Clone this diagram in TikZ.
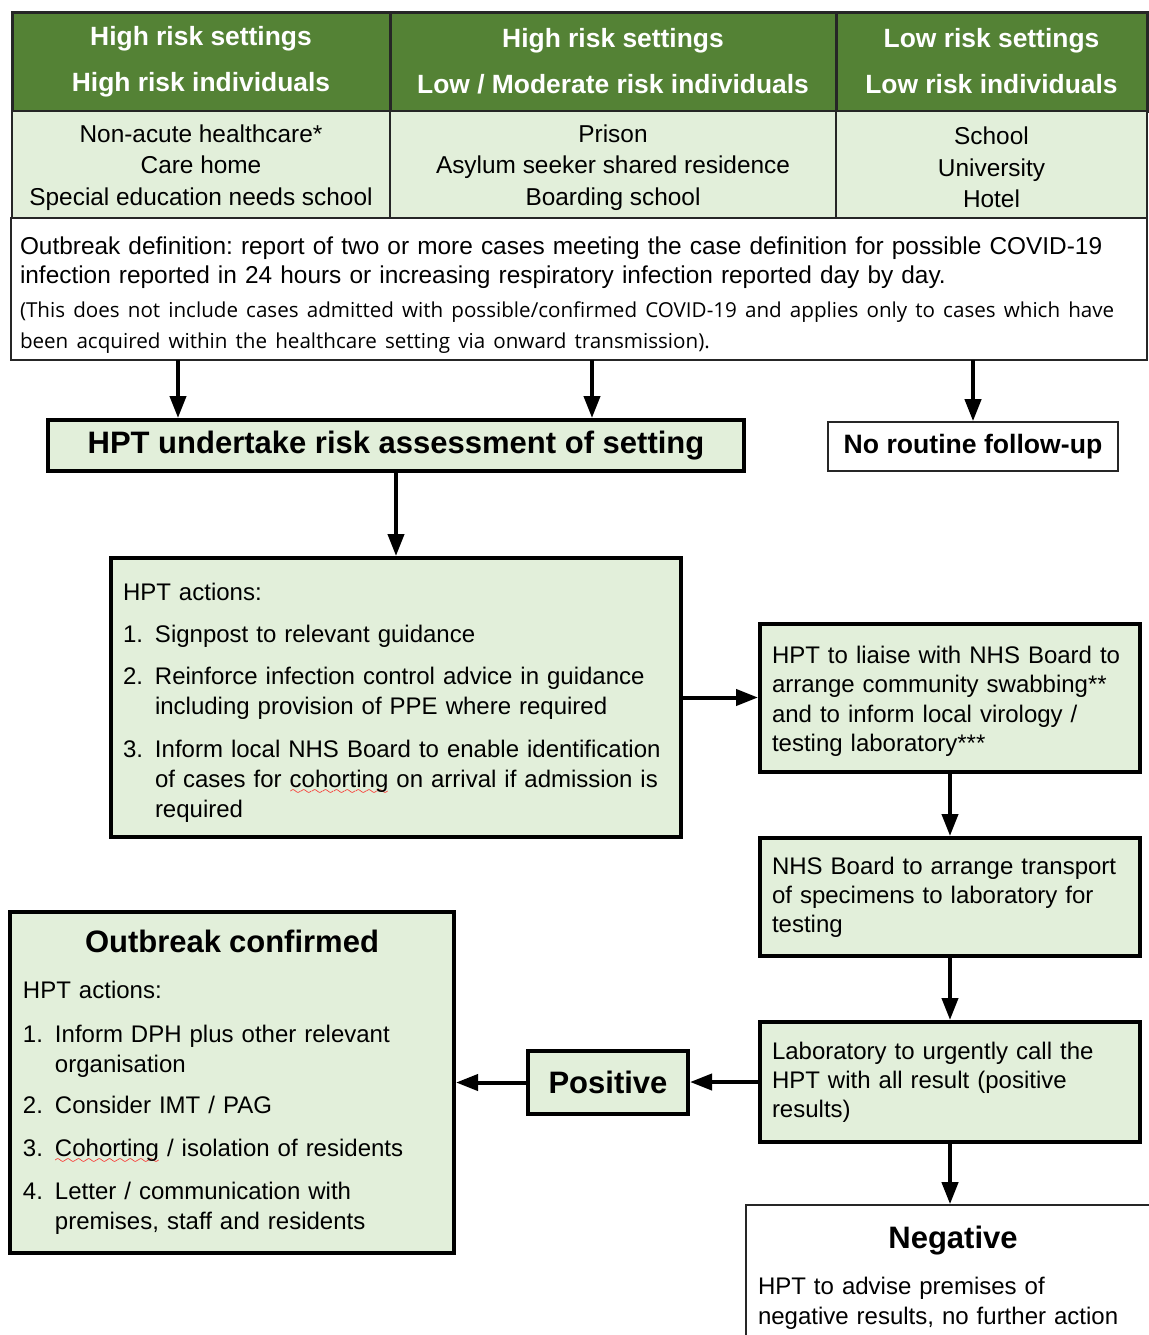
\documentclass[tikz,border=0pt]{standalone}
\usepackage{fontspec}
\setmainfont{Liberation Sans}
\newfontfamily\notefont{Open Sans}
\usepackage{xcolor}
\usepackage{tikz}
\usetikzlibrary{arrows.meta, calc, positioning}
\frenchspacing

\definecolor{hdgreen}{RGB}{84,130,53}
\definecolor{lightgreen}{RGB}{226,239,218}

% red wavy spell-check mark and list helpers
\font\wavefont=lasy6
\newsavebox{\spellbox}
\newcommand{\spellerr}[1]{\sbox{\spellbox}{#1}\rlap{\raisebox{-3.5pt}[0pt][0pt]{\textcolor{red}{\hbox to \wd\spellbox{\xleaders\hbox{\wavefont\char58}\hfil}}}}\usebox{\spellbox}}
\newcommand{\lnum}[1]{\makebox[16pt][l]{#1}}
\newcommand{\lcont}{\hspace*{16pt}}

\tikzset{
  cell/.style={draw=black!85, line width=0.8pt, inner sep=0pt, align=center},
  hdcell/.style={cell, fill=hdgreen, text=white, line width=1.5pt, minimum height=49.5pt,
    font=\fontsize{13.2}{23}\selectfont\bfseries},
  setcell/.style={cell, fill=lightgreen, minimum height=53.5pt,
    font=\fontsize{12.2}{15.75}\selectfont},
  box/.style={draw, line width=2pt, fill=lightgreen, inner sep=0pt, align=left,
    font=\fontsize{12}{15}\selectfont},
  plainbox/.style={draw=black!85, line width=0.8pt, fill=white, inner sep=0pt},
  arr/.style={->, line width=2pt},
}

\begin{document}
\begin{tikzpicture}[x=0.5pt, y=-0.5pt, >={Triangle[length=11pt, width=8pt]}]
    \useasboundingbox (0,0) rectangle (1149,1335);

    % table
    \node[hdcell, minimum width=189pt] (H1) at (201,61.5) {High risk settings\\High risk individuals\vphantom{/}};
    \node[hdcell, minimum width=223pt] (H2) at (613,61.5) {High risk settings\\Low / Moderate risk individuals};
    \node[hdcell, minimum width=155.5pt] (H3) at (991.5,61.5) {Low risk settings\\Low risk individuals\vphantom{/}};

    \node[setcell, minimum width=189pt] (S1) at (201,164.5) {\rule{0pt}{12pt}Non-acute healthcare*\\Care home\\Special education needs school};
    \node[setcell, minimum width=223pt] (S2) at (613,164.5) {\rule{0pt}{12pt}Prison\\Asylum seeker shared residence\\Boarding school};
    \node[setcell, minimum width=155.5pt] (S3) at (991.5,164.5) {\rule{0pt}{12pt}School\\University\\Hotel};

    \node[cell, fill=white, minimum width=568pt, minimum height=71pt, align=left, text width=559pt,
      font=\fontsize{12.2}{14.5}\selectfont] (def) at (579,289)
      {\rule{0pt}{15pt}Outbreak definition: report of two or more cases meeting the case definition for possible COVID-19\\
       infection reported in 24 hours or increasing respiratory infection reported day by day.\par
       \vspace{1.5pt}{\notefont\fontsize{10.3}{15.5}\selectfont (This does not include cases admitted with possible/confirmed COVID-19 and applies only to cases which have\\
       been acquired within the healthcare setting via onward transmission).\par}};

    % flow boxes
    \node[box, minimum width=348pt, minimum height=25.5pt, align=center,
      font=\fontsize{15.5}{18}\selectfont\bfseries] (risk) at (396,445.5) {HPT undertake risk assessment of setting};
    \node[plainbox, minimum width=145pt, minimum height=24.5pt,
      font=\fontsize{13.3}{16}\selectfont\bfseries] (none) at (973,446.5) {No routine follow-up};

    \node[box, minimum width=285pt, minimum height=139.5pt, text width=273pt] (act) at (396,697.5)
      {\rule{0pt}{14pt}HPT actions:\\[6pt]
       \lnum{1.}Signpost to relevant guidance\\[6pt]
       \lnum{2.}Reinforce infection control advice in guidance\\
       \lcont including provision of PPE where required\\[6.5pt]
       \lnum{3.}Inform local NHS Board to enable identification\\
       \lcont of cases for \spellerr{cohorting} on arrival if admission is\\
       \lcont required};

    \node[box, minimum width=190pt, minimum height=74pt, text width=178pt,
      font=\fontsize{12}{14.8}\selectfont] (liaise) at (950,698)
      {\rule{0pt}{12pt}HPT to liaise with NHS Board to\\ arrange community swabbing**\\ and to inform local virology /\\ testing laboratory***};
    \node[box, minimum width=190pt, minimum height=59pt, text width=178pt,
      font=\fontsize{12}{14.5}\selectfont] (trans) at (950,897)
      {NHS Board to arrange transport\\ of specimens to laboratory for\\ testing};
    \node[box, minimum width=190pt, minimum height=60pt, text width=178pt,
      font=\fontsize{12}{14.5}\selectfont] (lab) at (950,1082)
      {Laboratory to urgently call the\\ HPT with all result (positive\\ results)};

    \node[box, minimum width=80pt, minimum height=31.5pt, align=center,
      font=\fontsize{15.5}{18}\selectfont\bfseries] (pos) at (608,1082.5) {Positive};

    \node[box, minimum width=222pt, minimum height=170.5pt, text width=209pt] (conf) at (232,1082.5)
      {\makebox[\hsize]{\fontsize{15.5}{18}\selectfont\bfseries Outbreak confirmed}\\[8pt]
       HPT actions:\\[7pt]
       \lnum{1.}Inform DPH plus other relevant\\
       \lcont organisation\\[5.5pt]
       \lnum{2.}Consider IMT / PAG\\[6.5pt]
       \lnum{3.}\spellerr{Cohorting} / isolation of residents\\[6.5pt]
       \lnum{4.}Letter / communication with\\
       \lcont premises, staff and residents};

    \node[plainbox, minimum width=207pt, minimum height=72.5pt, text width=195pt, align=left,
      font=\fontsize{12}{15}\selectfont] (neg) at (953,1277.5)
      {\makebox[\hsize]{\fontsize{15.5}{18}\selectfont\bfseries Negative}\\[8pt]
       HPT to advise premises of\\ negative results, no further action};

    % connectors
    \coordinate (d1) at (178,360);
    \coordinate (d2) at (592,360);
    \coordinate (d3) at (973,360);
    \draw[arr] (d1) -- (d1 |- risk.north);
    \draw[arr] (d2) -- (d2 |- risk.north);
    \draw[arr] (d3) -- (none.north);
    \draw[arr] (risk.south) -- (act.north);
    \draw[arr] (act.east) -- (act.east -| liaise.west);
    \draw[arr] (liaise.south) -- (trans.north);
    \draw[arr] (trans.south) -- (lab.north);
    \draw[arr] (lab.west) -- (lab.west -| pos.east);
    \draw[arr] (pos.west) -- (pos.west -| conf.east);
    \draw[arr] (lab.south) -- (lab.south |- neg.north);
\end{tikzpicture}
\end{document}
